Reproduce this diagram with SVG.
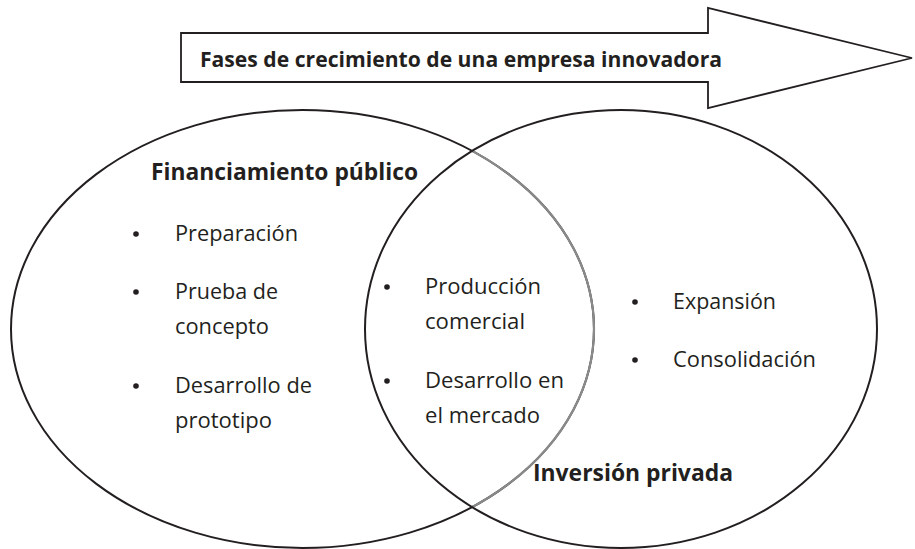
<svg xmlns="http://www.w3.org/2000/svg" width="915" height="549" viewBox="0 0 915 549">
<style>
.t{font-family:"Open Sans","Noto Sans","Liberation Sans",sans-serif;font-size:21px;fill:#231f20}
.b{font-family:"Open Sans","Noto Sans","Liberation Sans",sans-serif;font-weight:bold;fill:#231f20}
.ell{fill:none;stroke:#231f20;stroke-width:2}
.dot{fill:#231f20}
</style>
<defs>
<clipPath id="inRight"><ellipse cx="621" cy="329" rx="256" ry="219"/></clipPath>
</defs>
<rect width="915" height="549" fill="#ffffff"/>
<g id="arrow">
<polygon points="181,33 708,33 708,8 912,58 708,108 708,82 181,82" fill="#ffffff" stroke="#231f20" stroke-width="1.8" stroke-linejoin="miter"/>
<text class="b" x="200" y="67" font-size="21" textLength="522" lengthAdjust="spacingAndGlyphs">Fases de crecimiento de una empresa innovadora</text>
</g>
<g id="financiamiento-publico">
<ellipse class="ell" cx="302.5" cy="329" rx="291.5" ry="219"/>
<ellipse cx="302.5" cy="329" rx="291.5" ry="219" fill="none" stroke="#8a8a8a" stroke-width="2.2" clip-path="url(#inRight)"/>
<text class="b" x="151" y="180" font-size="23" textLength="267" lengthAdjust="spacingAndGlyphs">Financiamiento público</text>
<circle class="dot" cx="136" cy="234" r="2.8"/>
<text class="t" x="175" y="241" textLength="123" lengthAdjust="spacingAndGlyphs">Preparación</text>
<circle class="dot" cx="136" cy="292" r="2.8"/>
<text class="t" x="175" y="299" textLength="103" lengthAdjust="spacingAndGlyphs">Prueba de</text>
<text class="t" x="175" y="334" textLength="94" lengthAdjust="spacingAndGlyphs">concepto</text>
<circle class="dot" cx="136" cy="386" r="2.8"/>
<text class="t" x="175" y="393" textLength="137" lengthAdjust="spacingAndGlyphs">Desarrollo de</text>
<text class="t" x="175" y="428" textLength="97" lengthAdjust="spacingAndGlyphs">prototipo</text>
</g>
<g id="inversion-privada">
<ellipse class="ell" cx="621" cy="329" rx="256" ry="219"/>
<text class="b" x="533" y="481" font-size="23" textLength="200" lengthAdjust="spacingAndGlyphs">Inversión privada</text>
<circle class="dot" cx="635" cy="302" r="2.8"/>
<text class="t" x="673" y="309" textLength="103" lengthAdjust="spacingAndGlyphs">Expansión</text>
<circle class="dot" cx="635" cy="360" r="2.8"/>
<text class="t" x="673" y="367" textLength="143" lengthAdjust="spacingAndGlyphs">Consolidación</text>
</g>
<g id="interseccion">
<circle class="dot" cx="387" cy="287" r="2.8"/>
<text class="t" x="425" y="294" textLength="116" lengthAdjust="spacingAndGlyphs">Producción</text>
<text class="t" x="425" y="329" textLength="100" lengthAdjust="spacingAndGlyphs">comercial</text>
<circle class="dot" cx="387" cy="381" r="2.8"/>
<text class="t" x="425" y="388" textLength="139" lengthAdjust="spacingAndGlyphs">Desarrollo en</text>
<text class="t" x="425" y="423" textLength="115" lengthAdjust="spacingAndGlyphs">el mercado</text>
</g>
<g id="connectors"></g>
</svg>
